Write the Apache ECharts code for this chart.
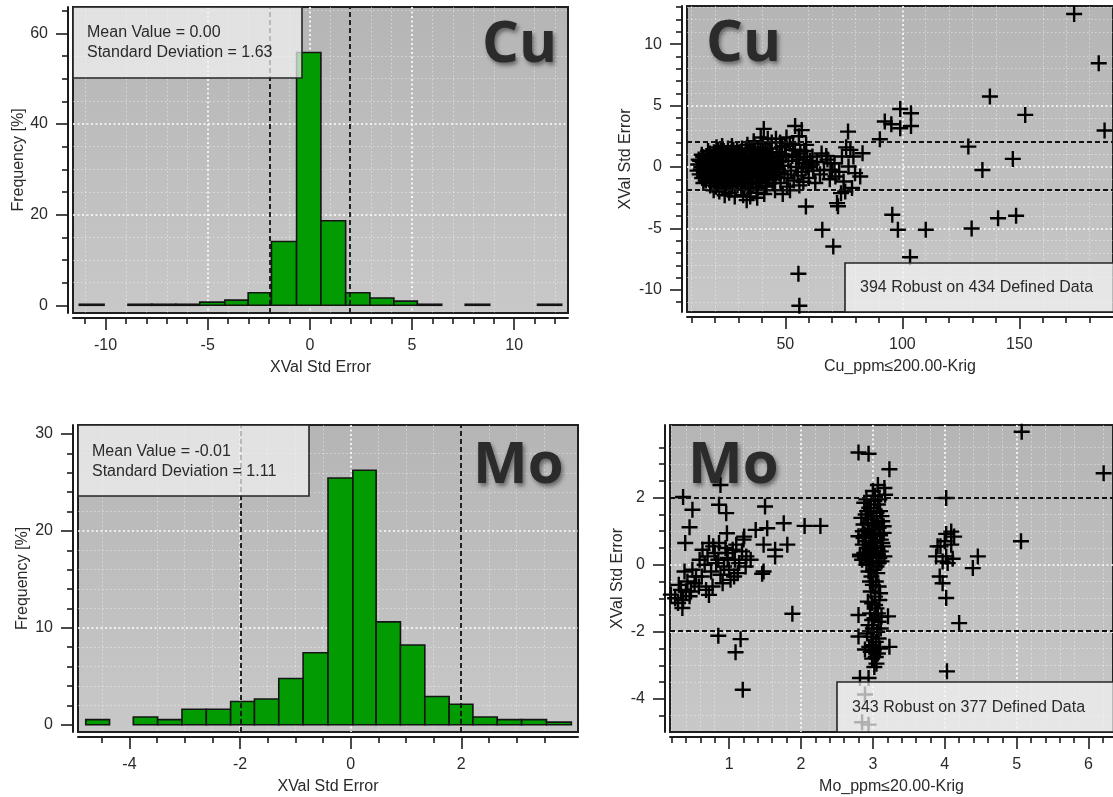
<!DOCTYPE html>
<html>
<head>
<meta charset="utf-8">
<script src="https://cdn.jsdelivr.net/npm/echarts@6/dist/echarts.min.js"></script>
<style>
  html, body { margin: 0; padding: 0; background: #ffffff; }
  #chart { width: 1113px; height: 797px; }
</style>
</head>
<body>
<div id="chart"></div>
<script>
// ---------- Cu: cross-validation histogram ----------
const cuBinEdges = [-11.28, -10.07, -8.90, -7.73, -6.56, -5.39, -4.16, -3.02, -1.88, -0.65,
                    0.54, 1.75, 2.94, 4.11, 5.26, 6.45, 7.60, 8.80, 9.97, 11.14, 12.32];
const cuFrequency = [0.23, 0, 0.23, 0.23, 0.23, 0.69, 1.15, 2.76, 14.06, 55.76,
                     18.66, 2.76, 1.61, 0.92, 0.23, 0, 0.23, 0, 0, 0.23];
const cuHistLimits = [-1.96, 1.96];
const cuStats = { mean: '0.00', std: '1.63', robust: 394, defined: 434 };

// ---------- Mo: cross-validation histogram ----------
const moBinEdges = [-4.79, -4.36, -3.93, -3.49, -3.05, -2.61, -2.17, -1.74, -1.30, -0.86,
                    -0.41, 0.04, 0.46, 0.90, 1.34, 1.78, 2.21, 2.65, 3.09, 3.54, 3.99];
const moFrequency = [0.53, 0, 0.80, 0.53, 1.59, 1.59, 2.39, 2.65, 4.77, 7.43,
                     25.46, 26.26, 10.61, 8.22, 2.92, 2.12, 0.80, 0.53, 0.53, 0.27];
const moHistLimits = [-1.98, 1.99];
const moStats = { mean: '-0.01', std: '1.11', robust: 343, defined: 377 };

// ---------- tick values ----------
const cuHistXTicks = [-10, -5, 0, 5, 10];
const cuHistYTicks = [0, 20, 40, 60];
const cuScatXTicks = [50, 100, 150];
const cuScatYTicks = [-10, -5, 0, 5, 10];
const moHistXTicks = [-4, -2, 0, 2];
const moHistYTicks = [0, 10, 20, 30];
const moScatXTicks = [1, 2, 3, 4, 5, 6];
const moScatYTicks = [-4, -2, 0, 2];

// ---------- Cu: estimate (ppm) vs standardized error ----------
const cuScatterPoints = [
  // low-grade core
  [12.5,-0.3],[12.8,0.2],[13.4,-0.6],[13.6,0.5],[14.1,0.0],[14.5,-0.9],[14.9,0.8],[15.2,-0.4],
  [15.6,0.3],[16.0,-1.1],[16.3,0.9],[16.7,-0.2],[17.1,0.5],[17.4,-0.7],[17.8,1.1],[18.0,0.1],
  [18.3,-1.3],[18.6,-0.5],[18.9,0.7],[19.2,-0.1],[19.5,1.2],[19.8,-0.9],[20.1,0.4],[20.4,-1.6],
  [20.7,0.9],[21.0,-0.3],[21.3,1.4],[21.6,-1.0],[21.9,0.2],[22.2,-0.6],[22.5,1.0],[22.8,-1.4],
  [23.1,0.6],[23.4,-0.2],[23.7,1.3],[24.0,-0.8],[24.3,0.3],[24.6,-1.8],[24.9,0.8],[25.2,-0.4],
  [25.5,1.5],[25.8,-1.2],[26.1,0.0],[26.4,0.9],[26.7,-0.7],[27.0,1.2],[27.3,-1.5],[27.6,0.4],
  [27.9,-0.1],[28.2,1.0],[28.5,-0.9],[28.8,0.6],[29.1,-1.3],[29.4,1.4],[29.7,-0.3],[30.0,0.2],
  [18.5,0.3],[19.0,-0.7],[19.7,0.6],[20.3,-0.2],[20.9,-1.2],[21.5,0.7],[22.0,1.1],[22.6,-0.1],
  [23.2,-1.0],[23.9,0.1],[24.4,1.1],[25.0,-0.6],[25.7,0.5],[26.3,-1.6],[26.9,0.2],[27.5,-0.4],
  [28.1,0.8],[28.7,-1.1],[29.3,0.0],[29.9,1.1],[19.4,-1.9],[21.8,-2.0],[24.1,-2.3],[26.0,-2.1],
  [28.4,-2.4],[20.6,1.6],[23.0,1.7],[27.2,1.7],
  [13.0,0.6],[13.9,-0.2],[14.7,0.4],[15.4,-0.8],[16.1,0.1],[16.9,-0.5],[17.6,0.7],[18.2,-0.9],
  [18.8,0.0],[19.6,0.3],[20.2,-0.6],[20.8,0.5],[21.4,-0.4],[22.1,0.0],[22.7,0.4],[23.3,-0.6],
  [23.8,0.7],[24.5,-0.2],[25.1,0.2],[25.6,-0.9],[26.2,0.6],[26.8,-0.3],[27.4,0.0],[28.0,-0.7],
  [28.6,0.3],[29.2,-0.5],[29.8,0.6],
  [14.3,1.0],[17.0,1.3],[19.9,1.0],[22.4,1.3],[25.3,1.1],[27.8,1.4],
  [15.0,-1.3],[17.9,-1.5],[20.6,-1.0],[23.6,-1.3],[26.6,-1.1],[29.6,-1.5],
  [30.4,-0.9],[30.8,0.7],[31.2,-1.6],[31.5,1.5],[31.9,-0.2],[32.3,0.4],[32.6,-1.1],[33.0,1.0],
  [33.4,-0.5],[33.8,1.8],[34.1,-1.9],[34.5,0.1],[34.9,0.9],[35.2,-0.8],[35.6,1.3],[36.0,-1.4],
  [36.4,0.5],[36.7,-0.1],[37.1,1.6],[37.5,-1.0],[37.9,0.3],[38.2,-1.7],[38.6,0.8],[39.0,-0.4],
  [39.4,1.2],[39.8,-1.2],[40.1,0.2],[40.5,1.9],[40.9,-0.7],[41.3,0.6],[41.7,-1.5],[42.0,1.1],
  [42.4,-0.2],[42.8,0.4],[43.2,-1.0],[43.6,1.5],[44.0,-0.5],[44.4,0.9],
  [30.2,0.3],[31.0,-0.4],[31.7,0.9],[32.5,-1.8],[33.2,0.2],[34.0,-0.9],[34.7,1.4],[35.4,0.4],
  [36.2,-0.6],[36.9,1.0],[37.7,-2.1],[38.4,0.0],[39.2,-0.9],[39.9,0.9],[40.7,-0.2],[41.5,1.4],
  [42.2,-0.9],[43.0,0.7],[43.8,0.1],[44.6,-1.3],[32.0,-2.3],[35.0,-2.4],[33.5,-2.7],[38.0,-2.5],
  [41.0,-2.2],[36.5,2.1],[39.5,2.4],[42.5,2.3],[40.8,3.1],[44.2,2.0],
  [30.6,-0.1],[31.3,0.5],[32.1,-0.6],[32.8,0.1],[33.6,0.6],[34.3,-0.4],[35.0,0.0],[35.8,-0.3],
  [36.6,0.8],[37.3,0.1],[38.0,-0.6],[38.8,0.5],[39.6,0.0],[40.3,-0.5],[41.1,0.3],[41.9,-0.1],
  [42.6,-0.6],[43.4,0.2],[44.2,-0.2],[45.0,0.6],[45.9,-0.4],
  [30.5,1.2],[33.1,1.4],[35.9,1.0],[38.3,1.4],[41.0,1.0],[43.3,1.1],
  [32.4,-1.3],[35.3,-1.6],[38.9,-1.3],[42.0,-1.6],[44.9,-1.0],[47.5,-0.5],[48.3,0.5],[46.5,0.0],
  // transition 45-62 ppm
  [45.2,0.3],[45.8,-0.8],[46.3,1.2],[46.9,-0.2],[47.4,0.8],[48.0,-1.3],[48.5,1.6],[49.1,0.1],
  [49.6,-0.6],[50.2,1.0],[50.8,-1.6],[51.3,0.5],[51.9,1.9],[52.4,-0.3],[53.0,0.9],[53.6,-1.1],
  [54.1,1.4],[54.7,0.0],[55.3,-0.7],[55.8,0.6],[56.4,1.1],[57.0,-0.4],[57.5,0.3],[58.1,1.3],
  [58.7,-0.1],[59.3,0.8],[60.0,-0.9],[60.6,0.5],[61.3,0.2],[62.0,-0.3],
  [46.0,2.3],[47.8,2.0],[49.8,1.7],[52.0,-1.9],[45.6,-1.9],[48.9,-2.2],[53.3,1.8],[56.0,-1.5],
  [58.9,1.8],[50.5,2.4],[47.0,0.4],[54.9,0.8],[59.8,0.0],[57.7,-1.2],[51.0,-0.9],
  // 62-84 ppm
  [61.6,0.85],[63.5,0.4],[64.8,-0.6],[66.5,-0.24],[68.0,0.6],[69.3,0.31],[70.0,-0.24],[71.4,-0.78],
  [72.1,-2.94],[73.8,-2.13],[74.9,-1.18],[75.6,-1.99],[74.2,0.85],[76.8,2.88],[77.0,0.04],[77.8,1.39],
  [79.1,0.85],[79.8,-0.5],[82.0,-0.78],[83.0,1.12],[72.5,-3.2],[67.5,0.9],[71.0,0.3],[76.0,1.6],
  [78.5,-1.7],[73.0,-0.4],[65.5,1.1],[62.8,-1.3],[69.0,-1.0],
  // isolated samples
  [173.4,12.45],[183.9,8.44],[186.4,2.97],[137.4,5.73],[152.5,4.24],[128.2,1.66],[134.2,-0.24],
  [147.2,0.66],[140.9,-4.17],[148.6,-3.97],[129.6,-5.0],[110.0,-5.11],[103.3,-7.34],[98.1,-5.11],
  [95.7,-3.89],[99.1,4.72],[103.7,4.37],[103.7,3.34],[92.5,3.7],[95.3,3.48],[99.1,3.15],[90.4,2.26],
  [58.8,-3.21],[65.8,-5.11],[70.5,-6.47],[55.6,-8.69],[56.0,-11.29],[54.2,3.34],[57.0,3.0],[55.8,2.5]
];
const cuScatLimits = [2.05, -1.82];

// ---------- Mo: estimate (ppm) vs standardized error ----------
const moScatterPoints = [
  // low-grade group
  [0.36,2.02],[0.49,1.64],[0.45,1.12],[0.39,0.65],[0.88,2.38],[0.86,1.79],[0.96,1.54],[0.97,0.94],
  [1.21,0.84],[1.37,1.04],[1.53,1.09],[1.50,1.74],[1.76,1.24],[2.05,1.16],[2.27,1.16],[1.48,0.6],
  [1.81,0.6],[1.64,0.45],[1.64,0.25],[1.48,-0.2],[1.46,-0.27],[1.88,-1.46],[0.85,-2.12],[1.16,-2.22],
  [1.09,-2.61],[1.19,-3.73],
  [0.19,-0.89],[0.25,-1.0],[0.29,-1.14],[0.35,-1.29],[0.40,-0.79],[0.33,-0.75],[0.45,-0.94],[0.52,-0.55],
  [0.49,-0.15],[0.54,-0.35],[0.58,-0.65],[0.68,-0.75],[0.77,-0.65],[0.38,-0.2],[0.42,-0.5],[0.30,-0.6],
  [0.62,-0.35],[0.36,-1.05],[0.47,-0.8],[0.72,-0.9],
  [0.63,0.45],[0.72,0.65],[0.86,0.65],[0.70,0.25],[0.82,0.05],[0.93,-0.05],[1.0,-0.15],[1.07,-0.35],
  [1.14,0.05],[1.23,-0.05],[1.30,0.15],[1.05,0.45],[0.91,-0.55],[0.98,0.2],[0.75,-0.2],[1.24,0.25],
  [0.80,0.35],[0.95,0.5],[1.10,0.6],[1.18,0.4],[0.88,-0.3],[1.02,-0.45],[0.66,0.0],[1.12,-0.25],
  [0.97,0.35],[0.85,0.15],[1.20,0.75],[0.78,0.55],[0.59,0.15],[1.08,0.15],
  // 3 ppm column, upper part
  [2.88,1.85],[2.95,1.7],[3.02,1.9],[3.10,1.6],[2.90,1.5],[2.98,1.35],[3.05,1.55],[3.13,1.3],
  [2.87,1.2],[2.93,1.05],[3.00,1.2],[3.08,1.1],[3.15,0.95],[2.89,0.9],[2.96,0.8],[3.03,0.95],
  [3.11,0.75],[2.86,0.6],[2.92,0.5],[2.99,0.65],[3.06,0.5],[3.14,0.55],[2.88,0.35],[2.95,0.25],
  [3.02,0.4],[3.09,0.2],[2.85,0.15],[2.91,0.0],[2.98,0.1],[3.05,-0.05],[3.12,0.1],[2.94,-0.2],
  [3.01,-0.15],[3.07,0.3],
  [2.91,1.95],[3.07,1.8],[2.97,1.6],[3.12,1.45],[2.84,1.4],[3.03,1.05],[2.95,0.95],[3.10,0.88],
  [2.90,0.7],[3.04,0.7],[2.97,0.45],[3.11,0.4],[2.89,0.2],[3.00,0.25],[3.08,0.05],[2.93,0.35],
  [3.16,0.25],[2.82,0.3],[2.86,1.0],[3.15,1.15],
  [2.93,1.25],[3.01,1.45],[3.09,1.95],[2.99,0.85],[2.87,0.8],[3.13,0.65],[2.96,0.05],[3.03,0.55],
  [2.92,1.6],[3.06,1.25],[2.80,0.85],[2.82,0.25],
  [2.80,3.35],[2.94,3.31],[3.23,2.85],[3.07,2.38],[3.16,2.29],[3.03,2.06],[3.17,2.09],[3.0,2.2],
  // 3 ppm column, lower part
  [2.98,-0.35],[3.04,-0.5],[3.08,-0.65],[2.97,-0.8],[3.03,-0.95],[3.09,-1.05],[2.99,-1.15],[3.05,-1.3],
  [2.96,-1.45],[3.02,-1.6],[3.08,-1.7],[2.94,-1.8],[3.00,-1.9],[3.06,-2.0],[2.98,-2.15],[3.04,-2.3],
  [2.95,-2.45],[3.01,-2.55],[3.07,-2.65],[2.99,-2.8],[3.05,-2.95],[3.02,-3.05],
  [3.06,-0.25],[3.00,-0.6],[3.10,-0.85],[2.93,-1.1],[3.07,-1.45],[2.99,-1.65],[3.11,-1.9],[2.92,-2.05],
  [3.08,-2.2],[3.00,-2.4],[2.97,-2.6],[3.04,-2.75],[3.03,-1.2],[2.96,-0.5],[3.12,-1.55],[3.10,-2.5],
  [2.80,-2.14],[2.89,-2.53],[2.82,-3.38],[2.94,-3.38],[2.89,-3.87],[2.85,-4.70],[2.94,-4.77],
  [2.80,-1.5],[3.21,-1.54],[3.23,-2.45],
  // 4 ppm group
  [4.02,1.99],[4.02,0.92],[4.09,0.99],[4.13,0.84],[3.94,0.55],[3.88,0.25],[4.02,0.25],[4.11,0.18],
  [3.97,0.1],[4.04,0.05],[3.93,-0.35],[3.97,-0.55],[4.02,-0.99],[4.09,0.6],[3.90,0.55],[4.0,0.7],
  [4.46,0.25],[4.39,-0.1],[4.20,-1.74],[4.03,-3.18],
  // isolated samples
  [5.07,3.97],[5.06,0.7],[6.21,2.73]
];
const moScatLimits = [2.0, -1.97];

// ---------- layout & style ----------
const FONT = "'Liberation Sans', Arial, sans-serif";
const INK = '#1c1c1c';
const TEXT = '#2a2a2a';
const grids = [
  { left: 73,  top: 7,   width: 495, height: 306 },   // Cu histogram
  { left: 687, top: 6,   width: 433, height: 306 },   // Cu scatter
  { left: 78,  top: 425, width: 500, height: 307 },   // Mo histogram
  { left: 670, top: 425, width: 446, height: 307 }    // Mo scatter
];

function plotBackground() {
  return new echarts.graphic.LinearGradient(0, 0, 0, 1, [
    { offset: 0, color: '#b5b5b5' },
    { offset: 1, color: '#c8c8c8' }
  ]);
}

function valueAxis(o) {
  return {
    type: 'value', gridIndex: o.grid, position: o.pos, offset: 5,
    min: o.min, max: o.max,
    minInterval: o.step, maxInterval: o.step,
    splitNumber: Math.max(1, Math.round((o.max - o.min) / o.step)),
    axisLine: { show: true, onZero: false, lineStyle: { color: INK, width: 2 } },
    axisTick: { show: true, length: 12, customValues: o.ticks, lineStyle: { color: INK, width: 1.6 } },
    minorTick: { show: true, splitNumber: o.minor, length: 6, lineStyle: { color: INK, width: 1.6 } },
    axisLabel: { customValues: o.ticks, margin: 20, fontSize: 16, fontFamily: FONT, color: TEXT },
    splitLine: { show: true, showMinLine: false, showMaxLine: false,
                 lineStyle: { color: '#ffffff', width: 1.6, type: [2, 2.5] } },
    minorSplitLine: { show: true, lineStyle: { color: 'rgba(255,255,255,0.45)', width: 1, type: [1.5, 2.5] } },
    name: o.name, nameLocation: 'middle', nameGap: o.gap,
    nameTextStyle: { fontSize: 16, fontFamily: FONT, color: TEXT }
  };
}

const limitLine = { color: '#111111', type: [5, 3], width: 1.8 };

function histogramSeries(edges, freq, axisIndex, limits) {
  const bins = [];
  freq.forEach((f, i) => { if (f > 0) bins.push([edges[i], edges[i + 1], f]); });
  return {
    type: 'custom', xAxisIndex: axisIndex, yAxisIndex: axisIndex, clip: true,
    encode: { x: [0, 1], y: 2 },
    data: bins,
    renderItem: function (params, api) {
      const p0 = api.coord([api.value(0), 0]);
      const p1 = api.coord([api.value(1), api.value(2)]);
      return {
        type: 'rect',
        shape: { x: p0[0], y: p1[1], width: p1[0] - p0[0], height: p0[1] - p1[1] },
        style: { fill: '#029c02', stroke: '#141414', lineWidth: 1.6 }
      };
    },
    markLine: {
      silent: true, symbol: ['none', 'none'], label: { show: false },
      lineStyle: limitLine,
      data: limits.map(v => ({ xAxis: v }))
    }
  };
}

// plus-shaped marker, arms about 2.4px thick at 16px
const PLUS = 'path://M6.8,0H9.2V6.8H16V9.2H9.2V16H6.8V9.2H0V6.8H6.8Z';
function scatterSeries(points, axisIndex, limits) {
  return {
    type: 'scatter', xAxisIndex: axisIndex, yAxisIndex: axisIndex,
    symbol: PLUS, symbolSize: 16,
    itemStyle: { color: '#000000', opacity: 1 },
    data: points,
    markLine: {
      silent: true, symbol: ['none', 'none'], label: { show: false },
      lineStyle: limitLine,
      data: limits.map(v => ({ yAxis: v }))
    }
  };
}

function box(x, y, w, h) {
  return { type: 'rect', z: 100, silent: true, shape: { x: x, y: y, width: w, height: h },
           style: { fill: 'rgba(242,242,242,0.72)', stroke: '#262626', lineWidth: 1.6 } };
}
function note(text, x, y) {
  return { type: 'text', z: 101, silent: true, x: x, y: y,
           style: { text: text, font: '16px ' + FONT, fill: TEXT, verticalAlign: 'middle' } };
}
function element(text, x, y) {
  return { type: 'text', z: 101, silent: true, x: x, y: y,
           style: { text: text, font: 'bold 58px "Open Sans", "DejaVu Sans", sans-serif', fill: '#2b2b2b',
                    verticalAlign: 'middle',
                    textShadowColor: 'rgba(0,0,0,0.45)', textShadowBlur: 4,
                    textShadowOffsetX: 2, textShadowOffsetY: 3 } };
}

const option = {
  animation: false,
  backgroundColor: '#ffffff',
  grid: grids.map(g => Object.assign({ show: true, containLabel: false, backgroundColor: plotBackground(),
                                       borderColor: '#202020', borderWidth: 2 }, g)),
  xAxis: [
    valueAxis({ grid: 0, pos: 'bottom', min: -11.59, max: 12.63, step: 5, minor: 5, ticks: cuHistXTicks,
                name: 'XVal Std Error', gap: 42 }),
    valueAxis({ grid: 1, pos: 'bottom', min: 8.0, max: 190.0, step: 50, minor: 5, ticks: cuScatXTicks,
                name: 'Cu_ppm\u2264200.00-Krig', gap: 42 }),
    valueAxis({ grid: 2, pos: 'bottom', min: -4.93, max: 4.11, step: 2, minor: 4, ticks: moHistXTicks,
                name: 'XVal Std Error', gap: 42 }),
    valueAxis({ grid: 3, pos: 'bottom', min: 0.178, max: 6.34, step: 1, minor: 5, ticks: moScatXTicks,
                name: 'Mo_ppm\u226420.00-Krig', gap: 42 })
  ],
  yAxis: [
    valueAxis({ grid: 0, pos: 'left', min: -1.7, max: 65.8, step: 20, minor: 4, ticks: cuHistYTicks,
                name: 'Frequency [%]', gap: 41 }),
    valueAxis({ grid: 1, pos: 'left', min: -11.8, max: 13.1, step: 5, minor: 5, ticks: cuScatYTicks,
                name: 'XVal Std Error', gap: 48 }),
    valueAxis({ grid: 2, pos: 'left', min: -0.75, max: 30.93, step: 10, minor: 5, ticks: moHistYTicks,
                name: 'Frequency [%]', gap: 42 }),
    valueAxis({ grid: 3, pos: 'left', min: -4.99, max: 4.17, step: 2, minor: 4, ticks: moScatYTicks,
                name: 'XVal Std Error', gap: 39 })
  ],
  series: [
    histogramSeries(cuBinEdges, cuFrequency, 0, cuHistLimits),
    scatterSeries(cuScatterPoints, 1, cuScatLimits),
    histogramSeries(moBinEdges, moFrequency, 2, moHistLimits),
    scatterSeries(moScatterPoints, 3, moScatLimits)
  ],
  graphic: { elements: [
    box(73, 7, 229, 71),
    note('Mean Value = ' + cuStats.mean, 87, 33),
    note('Standard Deviation = ' + cuStats.std, 87, 53),
    element('Cu', 482, 45),

    box(845, 263, 280, 49),
    note(cuStats.robust + ' Robust on ' + cuStats.defined + ' Defined Data', 860, 288),
    element('Cu', 706, 44),

    box(78, 425, 231, 71),
    note('Mean Value = ' + moStats.mean, 92, 452),
    note('Standard Deviation = ' + moStats.std, 92, 472),
    element('Mo', 473, 466),

    box(837, 682, 285, 50),
    note(moStats.robust + ' Robust on ' + moStats.defined + ' Defined Data', 852, 708),
    element('Mo', 688, 466)
  ] }
};

const chart = echarts.init(document.getElementById('chart'), null, { renderer: 'canvas' });
chart.setOption(option);
</script>
</body>
</html>
